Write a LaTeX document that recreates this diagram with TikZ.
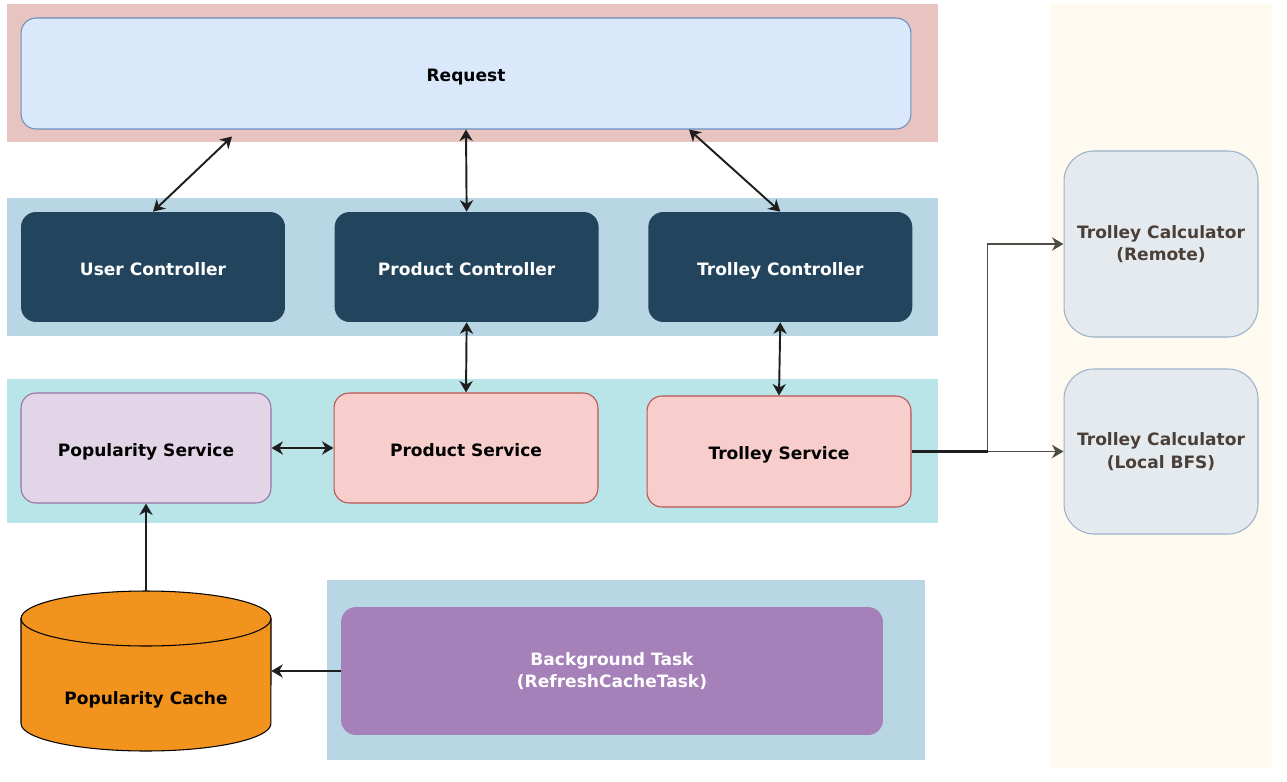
\documentclass[tikz,border=0pt]{standalone}
\usepackage{fontspec}
\setmainfont{DejaVu Sans}
\usepackage{tikz}
\usetikzlibrary{arrows.meta,positioning}
\definecolor{reqband}{HTML}{E8C4C0}
\definecolor{ctlband}{HTML}{B8D6E3}
\definecolor{svcband}{HTML}{B9E4E8}
\definecolor{calcband}{HTML}{FFFAF0}
\definecolor{reqfill}{HTML}{DAE8FC}
\definecolor{reqline}{HTML}{6C8EBF}
\definecolor{ctlfill}{HTML}{23445D}
\definecolor{popfill}{HTML}{E1D5E7}
\definecolor{popline}{HTML}{9673A6}
\definecolor{svcfill}{HTML}{F8CECC}
\definecolor{svcline}{HTML}{B85450}
\definecolor{cachefill}{HTML}{F2931E}
\definecolor{taskfill}{HTML}{A680B8}
\definecolor{calcfill}{HTML}{E5EAEE}
\definecolor{calcline}{HTML}{9CB0CA}
\definecolor{calctext}{HTML}{4A4039}
\definecolor{wire}{HTML}{1E1E1E}
\definecolor{grwire}{HTML}{4D4D45}
\tikzset{
  box/.style={rectangle, rounded corners=0.3cm, align=center, inner sep=2pt},
  oneline/.style={text height=1.1em, text depth=0.15em},
  ctlbox/.style={box, oneline, fill=ctlfill, text=white,
                 minimum width=5.28cm, minimum height=2.2cm},
  calcbox/.style={box, rounded corners=0.6cm, fill=calcfill, draw=calcline,
                  line width=0.6pt, text=calctext, minimum width=3.88cm},
  link/.style={wire, line width=1.1pt,
               >={Stealth[length=6.5pt, width=7.5pt, inset=2pt]}},
}
\begin{document}
\begin{tikzpicture}[x=0.02cm, y=-0.02cm,
                    font=\bfseries\fontsize{9.7}{12.8}\selectfont]
 \useasboundingbox (0,0) rectangle (1287,781);

 % Add the layers
 \fill[reqband]  (7,4)     rectangle (938,142);
 \fill[ctlband]  (7,198)   rectangle (938,336);
 \fill[svcband]  (7,379)   rectangle (938,523);
 \fill[ctlband]  (327,580) rectangle (925,760);
 \fill[calcband] (1050,4)  rectangle (1272,768);

 % Add the request
 \node[box, oneline,
       fill=reqfill,
       draw=reqline,
       line width=0.6pt,
       minimum width=17.8cm,
       minimum height=2.22cm] (req) at (466,73.5) {Request};

 % Add the controllers
 \node[ctlbox] (uctl) at (153,267) {User Controller};
 \node[ctlbox,
       right=0.98cm of uctl] (pctl) {Product Controller};
 \node[ctlbox,
       right=0.98cm of pctl] (tctl) {Trolley Controller};

 % Add the services
 \node[box, oneline,
       fill=popfill,
       draw=popline,
       line width=0.6pt,
       minimum width=5cm,
       minimum height=2.2cm] (popsvc) at (146,448) {Popularity Service};
 \node[box, oneline,
       fill=svcfill,
       draw=svcline,
       line width=0.6pt,
       minimum width=5.28cm,
       minimum height=2.2cm] (psvc) at (466,448) {Product Service};
 \node[box, oneline,
       fill=svcfill,
       draw=svcline,
       line width=0.6pt,
       minimum width=5.28cm,
       minimum height=2.22cm] (tsvc) at (779,451.5) {Trolley Service};

 % Add the calculators
 \node[calcbox,
       minimum height=3.72cm] (remote) at (1161,244)
       {Trolley Calculator\\(Remote)};
 \node[calcbox,
       minimum height=3.3cm] (bfs) at (1161,451.5)
       {Trolley Calculator\\(Local BFS)};

 % Add the cache (drawn as a cylinder) and the task
 \draw[fill=cachefill, line width=0.6pt]
     (21,618.5) -- (21,723.5)
     arc[start angle=180, end angle=360, x radius=2.5cm, y radius=0.55cm]
     -- (271,618.5)
     arc[start angle=0, end angle=180, x radius=2.5cm, y radius=0.55cm]
     -- cycle;
 \draw[line width=0.6pt]
     (21,618.5) arc[start angle=180, end angle=360, x radius=2.5cm, y radius=0.55cm];
 \node[inner sep=0pt,
       minimum width=5cm,
       minimum height=3.2cm,
       label={[oneline, yshift=-0.5cm]center:Popularity Cache}] (cache) at (146,671) {};
 \node[box,
       fill=taskfill,
       text=white,
       minimum width=10.84cm,
       minimum height=2.56cm] (task) at (612,671)
       {Background Task\\(RefreshCacheTask)};

 % Connect the nodes with arrows
 \draw[link, <->] ([xshift=-4.68cm, yshift=-0.14cm]req.south) -- (uctl.north);
 \draw[link, <->] (req.south) -- (pctl.north);
 \draw[link, <->] ([xshift=4.46cm]req.south) -- (tctl.north);
 \draw[link, <->] (pctl.south) -- (psvc.north);
 \draw[link, <->] (tctl.south) -- (tsvc.north);
 \draw[link, <->] (popsvc.east) -- (psvc.west);
 \draw[link, ->]  (cache.north) -- (popsvc.south);
 \draw[link, ->]  (task.west) -- (cache.east |- task.west);
 \draw[link, grwire, ->] (tsvc.east) -- ++(76,0) |- (remote.west);
 \draw[link, grwire, ->] (tsvc.east) -- (bfs.west);
 \draw[wire, line width=1.4pt] (tsvc.east) -- ++(76,0);
\end{tikzpicture}
\end{document}
